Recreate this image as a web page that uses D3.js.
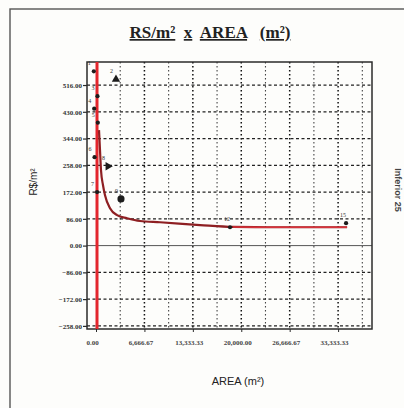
<!DOCTYPE html>
<html>
<head>
<meta charset="utf-8">
<script src="https://cdn.jsdelivr.net/npm/d3@7/dist/d3.min.js"></script>
<style>
  body { margin: 0; background: #fdfdfb; }
  svg { display: block; }
</style>
</head>
<body>
<div id="chart"></div>
<script>
"use strict";
(function() {

const WIDTH = 404
const HEIGHT = 408

const plot = { left: 87, right: 372, top: 62, bottom: 329 }

const RED = "#e3262d"
const MAROON = "#8e1f22"
const INK = "#2b2b2b"

// y ticks (R$/m2)
const yTicks = [-258, -172, -86, 0, 86, 172, 258, 344, 430, 516]
// x tick labels (m2)
const xTicks = [0, 6666.67, 13333.33, 20000, 26666.67, 33333.33]
const xGrid = [3333.33, 6666.67, 10000, 13333.33, 16666.67, 20000, 23333.33,
               26666.67, 30000, 33333.33, 36666.67]

// observed samples
const ptLabel = ["1", "2", "3", "4", "5", "6", "7", "8", "9", "12", "15"]
const ptArea  = [-300, 2750, 200, -250, 250, -200, 150, 1650, 3440, 18450, 34430]
const ptPrice = [560, 534, 480, 440, 395, 284, 172, 255, 150, 59, 72]

// fitted curve
const fitArea  = [413, 551, 689, 964, 1240, 1928, 2893, 4270, 6060, 8815,
                  14325, 18870, 23550, 28100, 34570]
const fitPrice = [371, 306, 242, 194, 162, 120, 98, 88, 79, 75,
                  66, 60, 59, 59, 59]

let x_scale = d3.scaleLinear().domain([-1240, 38000]).range([plot.left, plot.right])
let y_scale = d3.scaleLinear().domain([-268, 590]).range([plot.bottom, plot.top])

var svg = d3.select("#chart").append("svg")
    .attr("width", WIDTH)
    .attr("height", HEIGHT)

// outer frame
svg.append("rect")
    .attr("x", 10).attr("y", 9)
    .attr("width", 420).attr("height", 420)
    .style("fill", "none").style("stroke", "#555").style("stroke-width", 1.4)

// title, each word underlined
let title = svg.append("text")
    .attr("x", 210).attr("y", 38)
    .attr("text-anchor", "middle")
    .style("font-family", "'Liberation Serif', 'DejaVu Serif', serif")
    .style("font-weight", "bold")
    .style("font-size", "17px")
    .style("fill", "#222")
    .style("white-space", "pre")
title.append("tspan").style("text-decoration", "underline").text("RS/m²")
title.append("tspan").text("  ")
title.append("tspan").style("text-decoration", "underline").text("x")
title.append("tspan").text("  ")
title.append("tspan").style("text-decoration", "underline").text("AREA")
title.append("tspan").text("   ")
title.append("tspan").style("text-decoration", "underline").text("(m²)")

// grid
let grid = svg.append("g")
grid.selectAll("line.gx").data(xGrid).join("line")
    .attr("x1", d => x_scale(d)).attr("x2", d => x_scale(d))
    .attr("y1", plot.top).attr("y2", plot.bottom)
    .style("stroke", (d, i) => i % 2 ? "#111" : "#444")
    .style("stroke-width", (d, i) => i % 2 ? 1.5 : 1.1)
    .style("stroke-dasharray", "1.5,2.5")
grid.selectAll("line.gy").data(yTicks.filter(d => d !== 0)).join("line")
    .attr("x1", plot.left).attr("x2", plot.right)
    .attr("y1", d => y_scale(d)).attr("y2", d => y_scale(d))
    .style("stroke", "#222")
    .style("stroke-width", 1.3)
    .style("stroke-dasharray", "3,2.5")
grid.append("line")
    .attr("x1", plot.left).attr("x2", plot.right)
    .attr("y1", y_scale(0)).attr("y2", y_scale(0))
    .style("stroke", "#555").style("stroke-width", 1)

// plot border
svg.append("rect")
    .attr("x", plot.left).attr("y", plot.top)
    .attr("width", plot.right - plot.left).attr("height", plot.bottom - plot.top)
    .style("fill", "none").style("stroke", INK).style("stroke-width", 1.5)

// y axis
let yAxis = svg.append("g")
    .attr("transform", `translate(${plot.left},0)`)
    .call(d3.axisLeft(y_scale).tickValues(yTicks).tickSize(4).tickFormat(d3.format(".2f")))
yAxis.select(".domain").remove()
yAxis.selectAll("line").style("stroke", INK).style("stroke-width", 1.2)
yAxis.selectAll("text")
    .style("font-family", "'Liberation Serif', serif")
    .style("font-size", "7px")
    .style("font-weight", "bold")
    .style("fill", "#333")
    .attr("x", -5)

// x axis
let xAxis = svg.append("g")
    .attr("transform", `translate(0,${plot.bottom})`)
    .call(d3.axisBottom(x_scale).tickValues(xTicks).tickSize(3).tickFormat(d3.format(",.2f")))
xAxis.select(".domain").remove()
xAxis.selectAll("line").style("stroke", INK)
xAxis.selectAll("text")
    .style("font-family", "'Liberation Serif', serif")
    .style("font-size", "7px")
    .style("font-weight", "bold")
    .style("fill", "#444")
    .attr("dx", -4)
    .attr("y", 11)

// axis titles
svg.append("text")
    .attr("x", 238).attr("y", 385)
    .attr("text-anchor", "middle")
    .style("font-family", "'Liberation Sans', Arial, sans-serif")
    .style("font-size", "11px")
    .style("fill", "#222")
    .text("AREA (m²)")

svg.append("text")
    .attr("transform", "translate(37,182) rotate(-90)")
    .attr("text-anchor", "middle")
    .style("font-family", "'Liberation Sans', Arial, sans-serif")
    .style("font-size", "10px")
    .style("fill", "#222")
    .text("R$/m²")

svg.append("text")
    .attr("transform", "translate(395,190) rotate(90)")
    .attr("text-anchor", "middle")
    .style("font-family", "'Liberation Sans', Arial, sans-serif")
    .style("font-size", "9px")
    .style("font-weight", "bold")
    .style("fill", "#444")
    .text("Inferior 25")

// vertical branch of the fit at area 0
svg.append("line")
    .attr("x1", x_scale(0) + 1).attr("x2", x_scale(0) + 1)
    .attr("y1", y_scale.range()[1]).attr("y2", y_scale.range()[0])
    .style("stroke", RED).style("stroke-width", 3)

// fitted curve
let line = d3.line()
    .x(d => x_scale(d[0]))
    .y(d => y_scale(d[1]))
    .curve(d3.curveMonotoneX)

let fit = d3.zip(fitArea, fitPrice)
svg.append("path")
    .attr("d", line(fit))
    .style("fill", "none").style("stroke", MAROON).style("stroke-width", 2.2)
svg.append("path")
    .attr("d", line(fit.slice(11)))
    .style("fill", "none").style("stroke", "#d8333b").style("stroke-width", 1.6)

// samples
let pts = d3.zip(ptArea, ptPrice, ptLabel)
let shape = function(lbl) {
    if (lbl === "2") return d3.symbolTriangle
    if (lbl === "8") return d3.symbolTriangle
    return d3.symbolCircle
}
let size = function(lbl) {
    if (lbl === "9") return 40
    if (lbl === "2" || lbl === "8") return 30
    return 14
}
svg.append("g").selectAll("path").data(pts).join("path")
    .attr("d", d => d3.symbol().type(shape(d[2])).size(size(d[2]))())
    .attr("transform", d => `translate(${x_scale(d[0])},${y_scale(d[1])})` + (d[2] === "8" ? " rotate(90)" : ""))
    .style("fill", "#1c1c1c")

svg.append("g").selectAll("text").data(pts).join("text")
    .attr("x", d => x_scale(d[0]) - 6)
    .attr("y", d => y_scale(d[1]) - 6)
    .style("font-family", "'Liberation Serif', serif")
    .style("font-size", "6px")
    .style("fill", "#333")
    .text(d => d[2])

})();
</script>
</body>
</html>
